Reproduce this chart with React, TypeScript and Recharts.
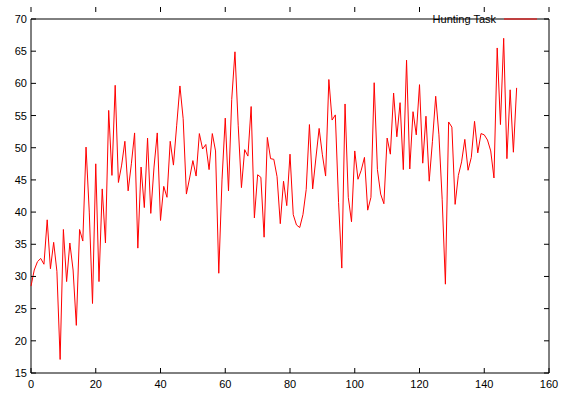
import { LineChart, Line, XAxis, YAxis, ReferenceArea, Legend } from 'recharts';

// chart size and plot box (gnuplot style frame)
const W = 567;
const H = 394;
const M = { top: 7, right: 18, left: 0, bottom: 0 };
const Y_AXIS_W = 31;
const X_AXIS_H = 21;
const PLOT_TOP = M.top;
const PLOT_RIGHT = W - M.right;
const TICK = 5;

const xTicks = [0, 20, 40, 60, 80, 100, 120, 140, 160];
const yTicks = [15, 20, 25, 30, 35, 40, 45, 50, 55, 60, 65, 70];

const hunting = [
  28.5, 31, 32.3, 32.8, 31.9, 38.8, 31.2, 35.3, 30.8, 17.1,
  37.3, 29.2, 35.2, 31, 22.4, 37.3, 35.5, 50.1, 40, 25.8,
  47.5, 29.2, 43.6, 35.2, 55.8, 45.7, 59.7, 44.6, 47.3, 51,
  43.3, 47.5, 52.3, 34.4, 47, 40.7, 51.5, 39.8, 47, 52.3,
  38.7, 44, 42.3, 51, 47.3, 53.5, 59.6, 54.5, 42.8, 45.3,
  48, 45.6, 52.2, 49.8, 50.5, 46.6, 52.2, 49.5, 30.5, 45,
  54.6, 43.3, 57.5, 64.9, 53.5, 43.8, 49.7, 48.7, 56.4, 39.1,
  45.8, 45.4, 36.1, 51.6, 48.3, 48.2, 45.5, 38.2, 44.8, 41,
  49, 39.6, 38, 37.6, 39.6, 43.5, 53.6, 43.6, 48.4, 53,
  48.9, 45.6, 60.6, 54.3, 55.1, 41.5, 31.3, 56.8, 42.3, 38.5,
  49.5, 45.1, 46.5, 48.5, 40.3, 42.3, 60.1, 46.6, 42.8, 41.3,
  51.5, 49, 58.5, 51.7, 57, 46.6, 63.6, 46.7, 55.6, 52,
  59.8, 47.6, 54.9, 44.8, 51, 58, 52, 42, 28.8, 54,
  53.2, 41.2, 45.7, 47.8, 51.3, 46.5, 48.5, 54.1, 49.2, 52.2,
  52, 51.2, 49.5, 45.3, 65.5, 53.6, 67, 48.3, 59, 49.3,
  59.3,
];

const data = hunting.map((v, i) => ({ step: i, value: v }));

const FONT = '"Liberation Sans", Arial, Helvetica, sans-serif';

function XTick(props: any) {
  const { x, y, payload } = props;
  return (
    <g>
      <line x1={x} x2={x} y1={y} y2={y - TICK} stroke="#000" />
      <line x1={x} x2={x} y1={PLOT_TOP} y2={PLOT_TOP + TICK} stroke="#000" />
      <text x={x} y={y + 15} textAnchor="middle" fontSize={11} fontFamily={FONT} fill="#000">
        {payload.value}
      </text>
    </g>
  );
}

function YTick(props: any) {
  const { x, y, payload } = props;
  return (
    <g>
      <line x1={x} x2={x + TICK} y1={y} y2={y} stroke="#000" />
      <line x1={PLOT_RIGHT} x2={PLOT_RIGHT - TICK} y1={y} y2={y} stroke="#000" />
      <text x={x - 4} y={y + 4} textAnchor="end" fontSize={11} fontFamily={FONT} fill="#000">
        {payload.value}
      </text>
    </g>
  );
}

function KeyBox() {
  return (
    <div style={{ display: 'flex', alignItems: 'center', fontFamily: FONT, fontSize: 11, color: '#000' }}>
      <span>Hunting Task</span>
      <svg width={33} height={4} style={{ marginLeft: 8 }}>
        <line x1={0} x2={33} y1={2} y2={2} stroke="#ff0000" strokeWidth={1} />
      </svg>
    </div>
  );
}

export default function App() {
  return (
    <div style={{ position: 'absolute', left: 0, top: 0, background: '#fff' }}>
      <LineChart width={W} height={H} data={data} margin={M}>
        <XAxis
          dataKey="step"
          type="number"
          domain={[0, 160]}
          ticks={xTicks}
          height={X_AXIS_H}
          tickSize={0}
          tickMargin={0}
          tickLine={false}
          axisLine={false}
          tick={<XTick />}
          interval={0}
        />
        <YAxis
          type="number"
          domain={[15, 70]}
          ticks={yTicks}
          width={Y_AXIS_W}
          tickSize={0}
          tickMargin={0}
          tickLine={false}
          axisLine={false}
          tick={<YTick />}
          interval={0}
        />
        <ReferenceArea x1={0} x2={160} y1={15} y2={70} fill="none" stroke="#000" strokeWidth={1} ifOverflow="visible" />
        <Legend
          verticalAlign="top"
          align="right"
          content={() => <KeyBox />}
          wrapperStyle={{ top: 13, right: 30, left: 'auto', width: 'auto' }}
        />
        <Line
          type="linear"
          dataKey="value"
          stroke="#ff0000"
          strokeWidth={1}
          dot={false}
          isAnimationActive={false}
        />
      </LineChart>
    </div>
  );
}
